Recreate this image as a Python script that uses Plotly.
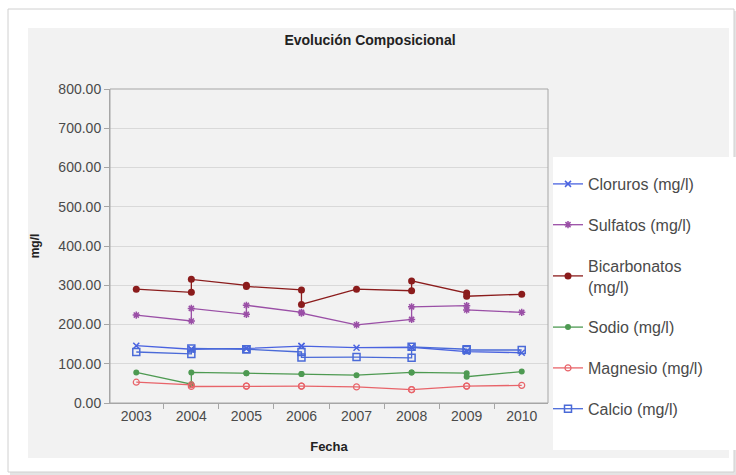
import plotly.graph_objects as go

# Sampling dates (several campaigns share a year)
fechas = ["2003", "2004", "2004", "2005", "2005", "2006", "2006",
          "2007", "2008", "2008", "2009", "2009", "2010"]
anios = ["2003", "2004", "2005", "2006", "2007", "2008", "2009", "2010"]

cloruros = [146, 137, 137, 139, 139, 145, 145, 141, 142, 142, 131, 131, 128]
sulfatos = [224, 209, 241, 226, 249, 231, 229, 199, 213, 245, 248, 237, 231]
bicarbonatos = [290, 282, 315, 300, 297, 288, 251, 290, 286, 311, 280, 272, 277]
sodio = [78, 48, 78, 76, 76, 74, 74, 71, 78, 78, 76, 67, 80]
magnesio = [53, 46, 42, 43, 43, 43, 43, 41, 34, 34, 43, 43, 45]
calcio = [130, 125, 139, 137, 137, 130, 116, 117, 115, 143, 137, 135, 135]

W, H = 736, 475
L, R, T, B = 110, 548, 89, 403  # plot area in pixels


def px_x(p):
    return (p - L) / (R - L)


def px_y(p):
    return (B - p) / (B - T)


series = [
    ("Cloruros (mg/l)", cloruros, "#4a63e0", dict(symbol="x-thin-open", size=6, line=dict(width=1.5, color="#4a63e0"))),
    ("Sulfatos (mg/l)", sulfatos, "#9a4fa6", dict(symbol="asterisk-open", size=6, line=dict(width=1.5, color="#9a4fa6"))),
    ("Bicarbonatos<br>(mg/l)", bicarbonatos, "#8b1c1c", dict(symbol="circle", size=7, color="#8b1c1c")),
    ("Sodio (mg/l)", sodio, "#4e9a52", dict(symbol="circle", size=6, color="#4e9a52")),
    ("Magnesio (mg/l)", magnesio, "#e8646a", dict(symbol="circle-open", size=6, line=dict(width=1.2, color="#e8646a"))),
    ("Calcio (mg/l)", calcio, "#4a6ad8", dict(symbol="square-open", size=7, line=dict(width=1.5, color="#4a6ad8"))),
]

fig = go.Figure()
for i, (name, vals, col, mk) in enumerate(series):
    fig.add_trace(go.Scatter(
        x=fechas, y=vals, name=name, mode="lines+markers",
        line=dict(color=col, width=1.3), marker=mk,
        legendgroup=str(i),
    ))

shapes = [
    # card with soft shadow
    dict(type="rect", xref="paper", yref="paper",
         x0=px_x(10), x1=px_x(737), y0=px_y(475), y1=px_y(11),
         fillcolor="#e4e4e4", line=dict(width=0), layer="below"),
    dict(type="rect", xref="paper", yref="paper",
         x0=px_x(8), x1=px_x(734), y0=px_y(472), y1=px_y(9),
         fillcolor="white", line=dict(color="#d0d0d0", width=1), layer="below"),
    # chart area
    dict(type="rect", xref="paper", yref="paper",
         x0=px_x(28), x1=px_x(729), y0=px_y(458), y1=px_y(28),
         fillcolor="#f2f2f2", line=dict(width=0), layer="below"),
    # legend panel
    dict(type="rect", xref="paper", yref="paper",
         x0=px_x(553), x1=px_x(736), y0=px_y(450), y1=px_y(157),
         fillcolor="white", line=dict(width=0), layer="below"),
    # plot frame
    dict(type="rect", xref="paper", yref="paper",
         x0=0, x1=1, y0=0, y1=1,
         line=dict(color="#a6a6a6", width=1), layer="above"),
]

fig.update_layout(
    width=W, height=H,
    margin=dict(l=L, r=W - R, t=T, b=H - B),
    paper_bgcolor="white", plot_bgcolor="#f2f2f2",
    shapes=shapes,
    font=dict(family="Liberation Sans, Arial, sans-serif", size=14, color="#4a4a4a"),
    title=dict(text="<b>Evolución Composicional</b>", x=370 / W, xanchor="center",
               y=1 - 40 / H, yanchor="middle",
               font=dict(size=14, color="#222222")),
    xaxis=dict(type="category", categoryorder="array", categoryarray=anios,
               showgrid=False, ticks="outside", tickson="boundaries",
               ticklen=5, tickcolor="#a6a6a6", showline=True, linecolor="#a6a6a6",
               tickfont=dict(size=14, color="#4a4a4a"),
               title=dict(text="<b>Fecha</b>", font=dict(size=13, color="#222222"), standoff=19)),
    yaxis=dict(range=[0, 800], dtick=100, tickformat=".2f",
               showgrid=True, gridcolor="#d9d9d9", gridwidth=1,
               ticks="outside", ticklen=5, tickcolor="#a6a6a6",
               showline=True, linecolor="#a6a6a6", zeroline=False,
               tickfont=dict(size=14, color="#4a4a4a"),
               title=dict(text="<b>mg/l</b>", font=dict(size=12, color="#222222"), standoff=16)),
    legend=dict(x=px_x(548), y=px_y(167), xanchor="left", yanchor="top",
                bgcolor="rgba(0,0,0,0)", tracegroupgap=17,
                font=dict(size=16, color="#4a4a4a"), itemwidth=30),
    showlegend=True,
)

fig.write_html("out.html")
